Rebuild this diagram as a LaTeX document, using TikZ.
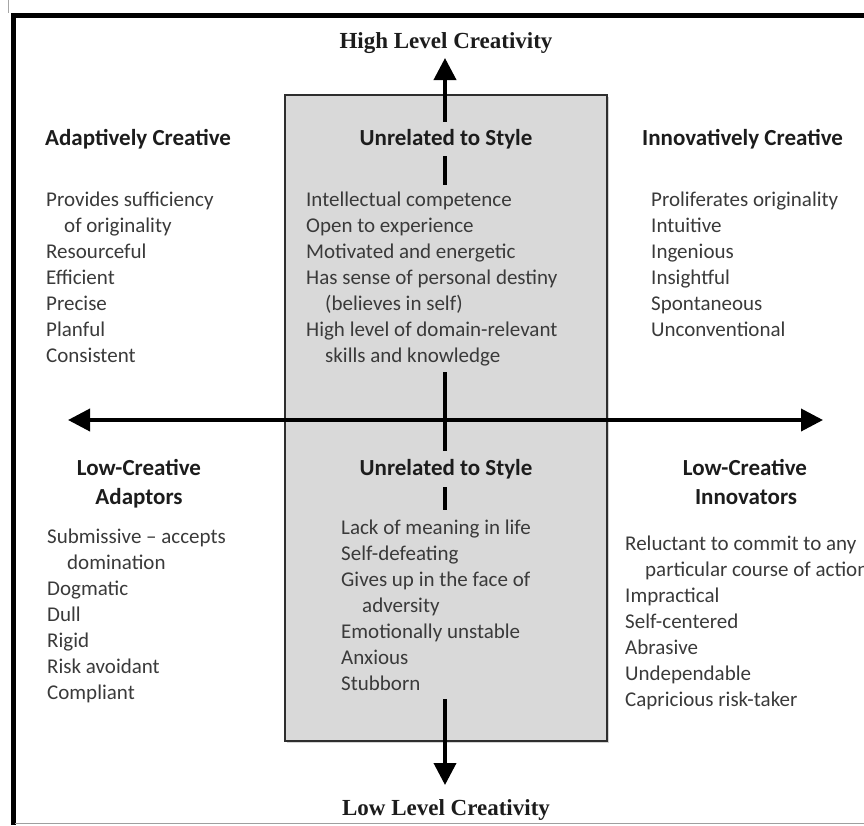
\documentclass[tikz,border=0pt]{standalone}
\usepackage{fontspec}
\setmainfont{Carlito}
\newfontfamily\serifhead{Liberation Serif}
\usetikzlibrary{arrows.meta,fit,shadows}
\pgfdeclarelayer{panel}
\pgfdeclarelayer{axes}
\pgfdeclarelayer{mask}
\pgfsetlayers{panel,axes,mask,main}

\definecolor{panelgray}{HTML}{D9D9D9}
\definecolor{panelline}{HTML}{2E2E2E}
\definecolor{bodyink}{HTML}{3A3A3A}
\definecolor{headink}{HTML}{1C1C1C}

\tikzset{
  item/.style={anchor=base west, inner sep=0pt, font=\fontsize{21}{26}\selectfont, text=bodyink},
  head/.style={anchor=base, inner sep=0pt, font=\fontsize{23}{28}\selectfont\bfseries, text=headink},
  headw/.style={head, anchor=base west},
  pole/.style={anchor=base, inner sep=0pt, font=\fontsize{23}{28}\selectfont\serifhead\bfseries, text=headink},
  axis/.style={line width=3.8pt, black,
    {Triangle[length=22pt,width=22pt]}-{Triangle[length=22pt,width=22pt]}},
  cover/.style={fill=panelgray, inner xsep=2pt, inner ysep=#1},
  cover/.default=6pt,
  panelbox/.style={draw=panelline, line width=1.6pt, fill=panelgray,
    drop shadow={shadow xshift=1.5pt, shadow yshift=-1.5pt, opacity=0.35}},
}

\begin{document}
\begin{tikzpicture}[x=1pt,y=-1pt]
\useasboundingbox (0,0) rectangle (864,825);
\clip (0,0) rectangle (864,825);

% outer frame
\draw[black, line width=4.6pt] (864,15.5) -- (13.3,15.5) -- (13.3,825);
\draw[gray!70, line width=0.8pt] (8,0) -- (8,13);
\draw[gray!75, line width=0.9pt] (15,823.3) -- (864,823.3);

% central panel
\begin{pgfonlayer}{panel}
  \node[panelbox, minimum width=322pt, minimum height=646pt, inner sep=0pt] (panel) at (446,418) {};
\end{pgfonlayer}

% axes
\coordinate (hightip) at (445,58);
\coordinate (lowtip) at (445,785);
\coordinate (lefttip) at (68,420);
\coordinate (righttip) at (823,420);
\begin{pgfonlayer}{axes}
  \draw[axis] (lowtip) -- (hightip);
  \draw[axis] (lefttip) -- (righttip);
\end{pgfonlayer}

% pole labels
\node[pole] (highlbl) at (446,48) {High Level Creativity};
\node[pole] (lowlbl) at (446,815) {Low Level Creativity};

% upper left quadrant
\node[headw] (ac) at (45,145) {Adaptively Creative};
\node[item] (ac1) at (46,206) {Provides sufficiency};
\node[item] (ac2) at (64,232) {of originality};
\node[item] (ac3) at (46,258) {Resourceful};
\node[item] (ac4) at (46,284) {Efficient};
\node[item] (ac5) at (46,310) {Precise};
\node[item] (ac6) at (46,336) {Planful};
\node[item] (ac7) at (46,362) {Consistent};

% upper centre
\node[head] (us1) at (446,145) {Unrelated to Style};
\node[item] (u1) at (306,206) {Intellectual competence};
\node[item] (u2) at (306,232) {Open to experience};
\node[item] (u3) at (306,258) {Motivated and energetic};
\node[item] (u4) at (306,284) {Has sense of personal destiny};
\node[item] (u5) at (325,310) {(believes in self)};
\node[item] (u6) at (306,336) {High level of domain-relevant};
\node[item] (u7) at (325,362) {skills and knowledge};

% upper right quadrant
\node[headw] (ic) at (642,145) {Innovatively Creative};
\node[item] (ic1) at (651,206) {Proliferates originality};
\node[item] (ic2) at (651,232) {Intuitive};
\node[item] (ic3) at (651,258) {Ingenious};
\node[item] (ic4) at (651,284) {Insightful};
\node[item] (ic5) at (651,310) {Spontaneous};
\node[item] (ic6) at (651,336) {Unconventional};

% lower left quadrant
\node[head] (lca1) at (139,475) {Low-Creative};
\node[head] (lca2) at (139,504) {Adaptors};
\node[item] (la1) at (47,543) {Submissive – accepts};
\node[item] (la2) at (67,569) {domination};
\node[item] (la3) at (47,595) {Dogmatic};
\node[item] (la4) at (47,621) {Dull};
\node[item] (la5) at (47,647) {Rigid};
\node[item] (la6) at (47,673) {Risk avoidant};
\node[item] (la7) at (47,699) {Compliant};

% lower centre
\node[head] (us2) at (446,475) {Unrelated to Style};
\node[item] (l1) at (341,534) {Lack of meaning in life};
\node[item] (l2) at (341,560) {Self-defeating};
\node[item] (l3) at (341,586) {Gives up in the face of};
\node[item] (l4) at (362,612) {adversity};
\node[item] (l5) at (341,638) {Emotionally unstable};
\node[item] (l6) at (341,664) {Anxious};
\node[item] (l7) at (341,690) {Stubborn};

% lower right quadrant
\node[head] (lci1) at (745,475) {Low-Creative};
\node[head] (lci2) at (746,504) {Innovators};
\node[item] (li1) at (625,550) {Reluctant to commit to any};
\node[item] (li2) at (645,576) {particular course of action};
\node[item] (li3) at (625,602) {Impractical};
\node[item] (li4) at (625,628) {Self-centered};
\node[item] (li5) at (625,654) {Abrasive};
\node[item] (li6) at (625,680) {Undependable};
\node[item] (li7) at (625,706) {Capricious risk-taker};

% panel-coloured backings behind the centre texts interrupt the vertical axis
\begin{pgfonlayer}{mask}
  \node[cover=7pt, fit=(us1)] (us1back) {};
  \node[cover=6pt, fit=(u1)(u4)(u7)] (uback) {};
  \node[cover=8pt, fit=(us2)] (us2back) {};
  \node[cover=9pt, fit=(l1)(l3)(l7)] (lback) {};
\end{pgfonlayer}
\end{tikzpicture}
\end{document}
